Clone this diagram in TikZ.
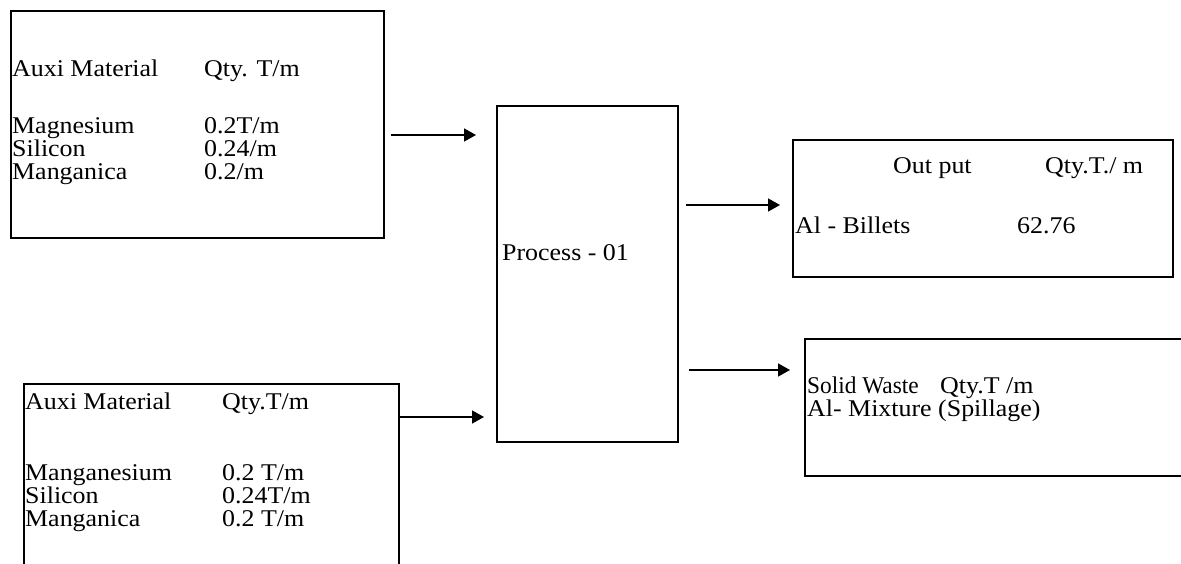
\documentclass[tikz,border=0pt]{standalone}
\usepackage{fontspec}
\setmainfont{Liberation Serif}[FakeStretch=1.08]
\usetikzlibrary{arrows.meta}
\tikzset{
  box/.style={draw, line width=2.2pt, rectangle, anchor=north west, inner sep=0pt},
  txt/.style={anchor=base west, inner sep=0pt, font=\fontsize{24}{26}\selectfont},
  arr/.style={line width=1.7pt, -{Triangle[length=12pt,width=13pt]}}
}
\begin{document}
\begin{tikzpicture}[x=1pt,y=-1pt]
\useasboundingbox (0,0) rectangle (1181,564);
\fill[white] (0,0) rectangle (1181,564);
% boxes
\node[box, minimum width=373pt, minimum height=227pt] (box1) at (10,10) {};
\node[box, minimum width=181pt, minimum height=336pt] (proc) at (496,105) {};
\node[box, minimum width=375pt, minimum height=217pt] (box2) at (23,383) {};
\node[box, minimum width=380pt, minimum height=137pt] (box3) at (792,139) {};
\node[box, minimum width=396pt, minimum height=137pt] (box4) at (804,338) {};
% box1 texts
\node[txt] (b1h1) at (12,77) {Auxi Material};
\node[txt] (b1h2) at (204,77) {Qty. T/m};
\node[txt] (b1r1a) at (12,134) {Magnesium};
\node[txt] (b1r1b) at (204,134) {0.2T/m};
\node[txt] (b1r2a) at (12,157) {Silicon};
\node[txt] (b1r2b) at (204,157) {0.24/m};
\node[txt] (b1r3a) at (12,180) {Manganica};
\node[txt] (b1r3b) at (204,180) {0.2/m};
% box2 texts
\node[txt] (b2h1) at (25,409) {Auxi Material};
\node[txt] (b2h2) at (222,409) {Qty.T/m};
\node[txt] (b2r1a) at (25,480) {Manganesium};
\node[txt] (b2r1b) at (222,480) {0.2 T/m};
\node[txt] (b2r2a) at (25,503) {Silicon};
\node[txt] (b2r2b) at (222,503) {0.24T/m};
\node[txt] (b2r3a) at (25,526) {Manganica};
\node[txt] (b2r3b) at (222,526) {0.2 T/m};
% process
\node[txt] (ptxt) at (502,261) {Process - 01};
% box3 texts
\node[txt] (b3h1) at (893,174) {Out put};
\node[txt] (b3h2) at (1045,174) {Qty.T./ m};
\node[txt] (b3r1a) at (795,234) {Al - Billets};
\node[txt] (b3r1b) at (1017,234) {62.76};
% box4 texts
\node[txt] (b4h1) at (807,393) {\scalebox{0.9}[1]{Solid Waste}};
\node[txt] (b4h2) at (940,393) {Qty.T /m};
\node[txt] (b4r1) at (807,416) {Al- Mixture (Spillage)};
% arrow levels
\coordinate (y1) at (0,135);
\coordinate (y2) at (0,417);
\coordinate (y3) at (0,205);
\coordinate (y4) at (0,370);
% arrows
\draw[arr, shorten <=6pt, shorten >=20pt] (box1.east |- y1) -- (proc.west |- y1);
\draw[arr, shorten >=12pt] (box2.east |- y2) -- (proc.west |- y2);
\draw[arr, shorten <=7pt, shorten >=12pt] (proc.east |- y3) -- (box3.west |- y3);
\draw[arr, shorten <=10pt, shorten >=14pt] (proc.east |- y4) -- (box4.west |- y4);
\end{tikzpicture}
\end{document}
